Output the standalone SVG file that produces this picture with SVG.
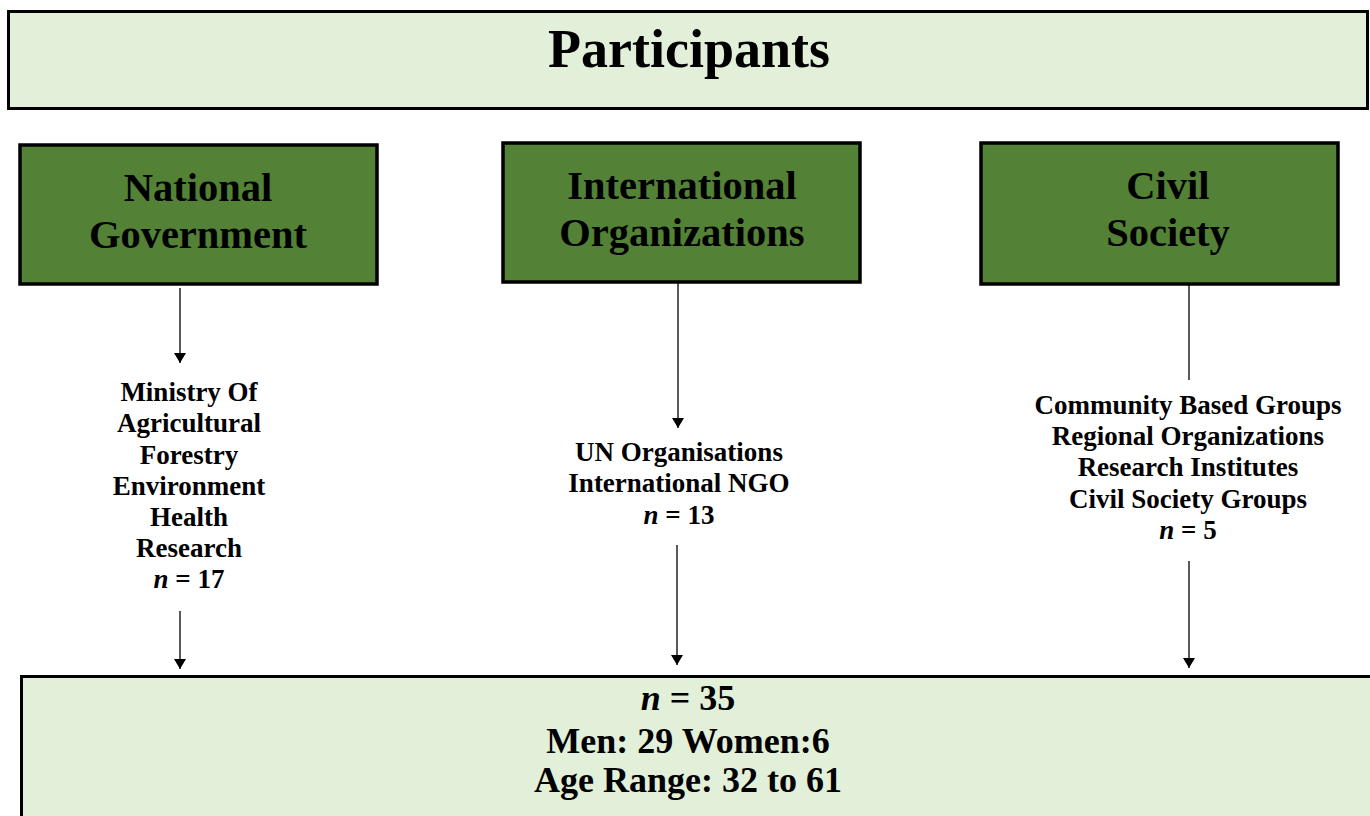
<svg xmlns="http://www.w3.org/2000/svg" width="1370" height="816" viewBox="0 0 1370 816">
<style>
text { font-family: "Liberation Serif", "Times New Roman", serif; font-weight: bold; text-anchor: middle; fill: #000; }
.light { fill: #e2efd9; stroke: #000; stroke-width: 3; }
.green { fill: #538135; stroke: #000; stroke-width: 3.5; }
.head { font-size: 40.5px; }
.list { font-size: 27px; }
.big { font-size: 36px; }
.conn { stroke: #000; stroke-width: 1.3; fill: none; }
</style>
<defs>
<marker id="arr" viewBox="0 0 10 12" refX="10" refY="6" markerWidth="10" markerHeight="12" markerUnits="userSpaceOnUse" orient="auto">
<path d="M0,0 L10,6 L0,12 Z" fill="#000"/>
</marker>
</defs>
<rect width="1370" height="816" fill="#fff"/>
<g id="participants">
<rect class="light" x="8.5" y="11.5" width="1359" height="97"/>
<text x="689" y="67" style="font-size:54px">Participants</text>
</g>
<g id="national">
<rect class="green" x="20" y="145" width="357" height="139"/>
<text class="head" x="198" y="201">National</text>
<text class="head" x="198" y="248">Government</text>
</g>
<g id="international">
<rect class="green" x="503" y="143" width="357" height="139"/>
<text class="head" x="682" y="199">International</text>
<text class="head" x="682" y="246">Organizations</text>
</g>
<g id="civil">
<rect class="green" x="981" y="143" width="357" height="141"/>
<text class="head" x="1168" y="199">Civil</text>
<text class="head" x="1168" y="246">Society</text>
</g>
<g id="ministries">
<text class="list" x="189" y="401">Ministry Of</text>
<text class="list" x="189" y="432">Agricultural</text>
<text class="list" x="189" y="464">Forestry</text>
<text class="list" x="189" y="495">Environment</text>
<text class="list" x="189" y="526">Health</text>
<text class="list" x="189" y="557">Research</text>
<text class="list" x="189" y="588"><tspan font-style="italic">n</tspan> = 17</text>
</g>
<g id="un">
<text class="list" x="679" y="461">UN Organisations</text>
<text class="list" x="679" y="492">International NGO</text>
<text class="list" x="679" y="524"><tspan font-style="italic">n</tspan> = 13</text>
</g>
<g id="community">
<text class="list" x="1188" y="414">Community Based Groups</text>
<text class="list" x="1188" y="445">Regional Organizations</text>
<text class="list" x="1188" y="476">Research Institutes</text>
<text class="list" x="1188" y="508">Civil Society Groups</text>
<text class="list" x="1188" y="539"><tspan font-style="italic">n</tspan> = 5</text>
</g>
<g id="total">
<rect class="light" x="21.5" y="676.5" width="1360" height="150"/>
<text class="big" x="688" y="710"><tspan font-style="italic">n</tspan> = 35</text>
<text class="big" x="688" y="753">Men: 29 Women:6</text>
<text class="big" x="688" y="792">Age Range: 32 to 61</text>
</g>
<g id="connectors">
<line class="conn" x1="180" y1="288" x2="180" y2="363" marker-end="url(#arr)"/>
<line class="conn" x1="180" y1="611" x2="180" y2="669" marker-end="url(#arr)"/>
<line class="conn" x1="678" y1="283" x2="678" y2="428" marker-end="url(#arr)"/>
<line class="conn" x1="677" y1="545" x2="677" y2="665" marker-end="url(#arr)"/>
<line class="conn" x1="1189" y1="285" x2="1189" y2="380"/>
<line class="conn" x1="1189" y1="561" x2="1189" y2="668" marker-end="url(#arr)"/>
</g>
</svg>
